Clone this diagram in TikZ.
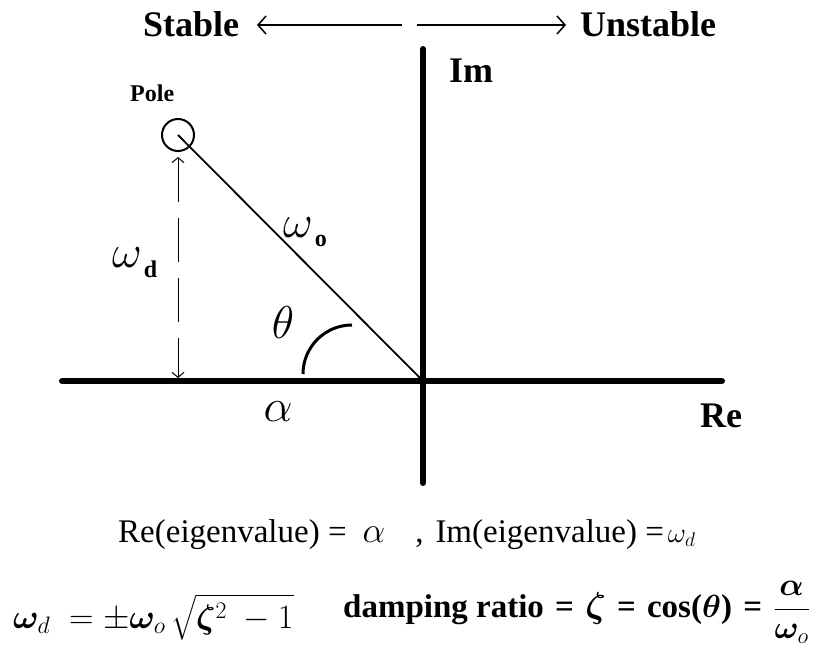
\RequirePackage{fix-cm}
\documentclass[tikz,border=0pt]{standalone}
\usepackage{amsmath,bm}
\usepackage{fontspec}
\setmainfont{Liberation Serif}
\usetikzlibrary{arrows.meta}
\begin{document}
\begin{tikzpicture}[x=1pt,y=-1pt,
  every node/.style={inner sep=0, anchor=base west},
  bigbold/.style={font=\fontsize{36}{40}\selectfont\bfseries},
  smallbold/.style={font=\fontsize{24}{26}\selectfont\bfseries},
  greek/.style={font=\fontsize{46}{48}\selectfont},
  regtext/.style={font=\fontsize{33}{36}\selectfont},
  boldtext/.style={font=\fontsize{33}{37}\selectfont\bfseries},
  axisline/.style={line width=6pt, line cap=round},
  toparrow/.style={line width=1.5pt, -{Straight Barb[length=8pt,width=18pt,line width=1.5pt]}},
  dasharrow/.style={line width=1pt, dash pattern=on 44pt off 16pt, {Straight Barb[length=5pt,width=12pt]}-{Straight Barb[length=5pt,width=12pt]}},
  thinline/.style={line width=1.8pt}
]
\useasboundingbox (0,0) rectangle (817,658);
\fill[white] (0,0) rectangle (817,658);

% top labels and arrows
\node[bigbold] (stable) at (143,37) {Stable};
\node[bigbold] (unstable) at (580,37) {Unstable};
\coordinate (ltail) at (402,25);
\coordinate (ltip) at (257,25);
\coordinate (rtail) at (417,25);
\coordinate (rtip) at (566,25);
\draw[toparrow] (ltail) -- (ltip);
\draw[toparrow] (rtail) -- (rtip);

% axes
\coordinate (O) at (423,381);
\coordinate (vtop) at (423,49);
\coordinate (vbot) at (423,483);
\coordinate (hleft) at (62,381);
\coordinate (hright) at (722,381);
\draw[axisline] (vtop) -- (vbot);
\draw[axisline] (hleft) -- (hright);
\node[bigbold] (im) at (449,83) {Im};
\node[bigbold] (re) at (700,427) {Re};

% pole
\node[smallbold] (polelbl) at (130,102) {Pole};
\node[circle, draw, line width=2pt, minimum size=32pt, anchor=center] (pole) at (178,135) {};
\draw[thinline] (pole.center) -- (O);

% dashed arrow
\coordinate (dtop) at (178,157);
\coordinate (dbot) at (178,378);
\draw[dasharrow] (dtop) -- (dbot);

% angle arc
\coordinate (arcstart) at (303,374);
\draw[line width=3pt] (arcstart) arc[start angle=180, end angle=270, radius=49];

% greek labels
\node[greek] (wd) at (112,267) {$\omega$\kern2pt\lower10pt\hbox{\fontsize{24}{26}\selectfont\bfseries d}};
\node[greek] (wo) at (283,237) {$\omega$\kern2pt\lower9pt\hbox{\fontsize{24}{26}\selectfont\bfseries o}};
\node[greek, anchor=center] (theta) at (283,323) {$\theta$};
\node[greek, anchor=center] (alpha) at (278,412) {$\alpha$};

% Re / Im line
\node[regtext] (reim) at (118,542)
  {Re(eigenvalue) =\hspace{16pt}{\fontsize{36}{38}\selectfont$\alpha$}\hspace{30pt},\hspace{12pt}Im(eigenvalue) =\hspace{4pt}{\fontsize{28}{30}\selectfont$\omega_d$}};

% omega_d formula
\node[font=\fontsize{34}{38}\selectfont] (wdeq) at (13,628)
  {$\bm{\omega}_d \;= \pm\bm{\omega}_o\,\sqrt{\bm{\zeta}^2\;-1}$};

% damping ratio line
\node[boldtext] (damp) at (343,617)
  {damping ratio\hspace{3pt} =\hspace{3pt} {\fontsize{36}{38}\selectfont$\bm{\zeta}$}\hspace{3pt} =\hspace{3pt} cos({\fontsize{32}{34}\selectfont$\bm{\theta}$})\hspace{3pt} =\hspace{3pt} {\fontsize{32}{34}\selectfont$\dfrac{\bm{\alpha}\rule[-5pt]{0pt}{0pt}}{\rule{0pt}{24pt}\bm{\omega}_o}$}};
\end{tikzpicture}
\end{document}
